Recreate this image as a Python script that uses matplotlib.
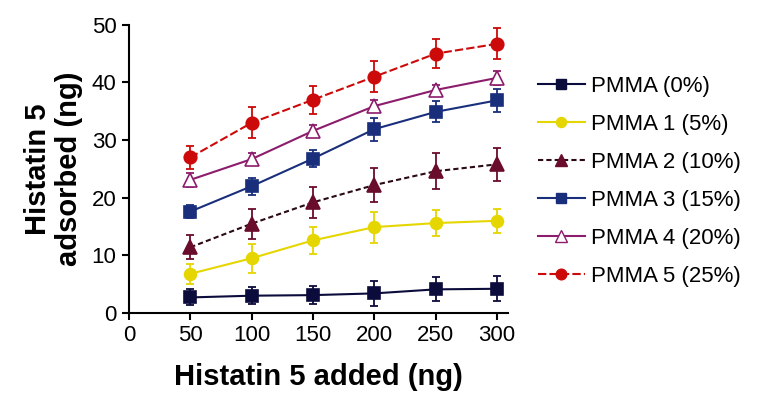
import matplotlib
matplotlib.use("Agg")
import matplotlib.pyplot as plt
from matplotlib.lines import Line2D

plt.rcParams['font.family'] = ['Liberation Sans', 'DejaVu Sans']

x_added = [50, 100, 150, 200, 250, 300]
labels = ["PMMA (0%)", "PMMA 1 (5%)", "PMMA 2 (10%)", "PMMA 3 (15%)", "PMMA 4 (20%)", "PMMA 5 (25%)"]
pmma0 = [2.7, 3.0, 3.1, 3.4, 4.1, 4.2]
pmma0_err = [1.4, 1.5, 1.6, 2.2, 2.1, 2.2]
pmma1 = [6.8, 9.5, 12.6, 14.9, 15.6, 16.0]
pmma1_err = [1.7, 2.5, 2.4, 2.7, 2.3, 2.1]
pmma2 = [11.4, 15.5, 19.2, 22.2, 24.6, 25.8]
pmma2_err = [2.1, 2.6, 2.7, 2.9, 3.1, 2.9]
pmma3 = [17.6, 22.0, 26.8, 31.9, 34.9, 36.9]
pmma3_err = [1.1, 1.5, 1.5, 2.0, 1.8, 2.0]
pmma4 = [23.1, 26.7, 31.6, 35.9, 38.7, 40.8]
pmma4_err = [1.2, 1.1, 1.0, 1.1, 0.9, 1.2]
pmma5 = [27.0, 33.0, 37.0, 41.0, 45.0, 46.7]
pmma5_err = [2.0, 2.7, 2.4, 2.7, 2.5, 2.7]

series = [pmma0, pmma1, pmma2, pmma3, pmma4, pmma5]
errors = [pmma0_err, pmma1_err, pmma2_err, pmma3_err, pmma4_err, pmma5_err]
colors = ['#0c0c3c', '#e6d600', '#6a0c2c', '#1a2f7c', '#8c1c6c', '#cc0a0a']
line_colors = ['#0c0c3c', '#e6d600', '#2a0a14', '#1a2f7c', '#8c1c6c', '#cc0a0a']
markers = ['s', 'o', '^', 's', '^', 'o']
styles = ['-', '-', '--', '-', '-', '--']
dash_pat = [None, None, (2.5, 1.5), None, None, (4, 1.5)]
faces = ['#0c0c3c', '#e6d600', '#6a0c2c', '#1a2f7c', 'white', '#cc0a0a']
msizes = [8.5, 8.5, 9.5, 8.5, 9.5, 9]

fig = plt.figure(figsize=(7.63, 4.07), dpi=100)
ax = fig.add_axes([0.169, 0.231, 0.497, 0.708])

handles = []
for y, e, c, lc, m, ls, dp, fc, ms, lab in zip(series, errors, colors, line_colors, markers,
                                               styles, dash_pat, faces, msizes, labels):
    ax.errorbar(x_added, y, yerr=e, fmt='none', ecolor=c, elinewidth=1.3,
                capsize=3.2, capthick=1.3, zorder=2)
    ln, = ax.plot(x_added, y, color=lc, linestyle=ls, linewidth=1.5, zorder=3)
    if dp is not None:
        ln.set_dashes(dp)
    ax.plot(x_added, y, linestyle='none', marker=m, markersize=ms, markerfacecolor=fc,
            markeredgecolor=c, markeredgewidth=1.2, zorder=4)
    h = Line2D([], [], color=lc, linestyle=ls, linewidth=1.5, marker=m,
               markersize=ms * 0.85, markerfacecolor=fc, markeredgecolor=c)
    if dp is not None:
        h.set_dashes(dp)
    handles.append(h)

ax.set_xlim(0, 309)
ax.set_ylim(0, 50)
ax.set_xticks([0, 50, 100, 150, 200, 250, 300])
ax.set_yticks([0, 10, 20, 30, 40, 50])
for s in ['top', 'right']:
    ax.spines[s].set_visible(False)
for s in ['left', 'bottom']:
    ax.spines[s].set_linewidth(1.5)
ax.tick_params(axis='both', labelsize=16, width=1.5, length=5, direction='out', pad=4)
ax.set_xlabel("Histatin 5 added (ng)", fontsize=21, fontweight='bold', labelpad=12)
ax.set_ylabel("Histatin 5\nadsorbed (ng)", fontsize=21, fontweight='bold', labelpad=6,
              linespacing=1.15)

fig.legend(handles, labels, loc='upper left', bbox_to_anchor=(0.679, 0.862), frameon=False,
           fontsize=16, handlelength=2.1, labelspacing=0.76, handletextpad=0.3)

fig.savefig("out.png", dpi=100)
